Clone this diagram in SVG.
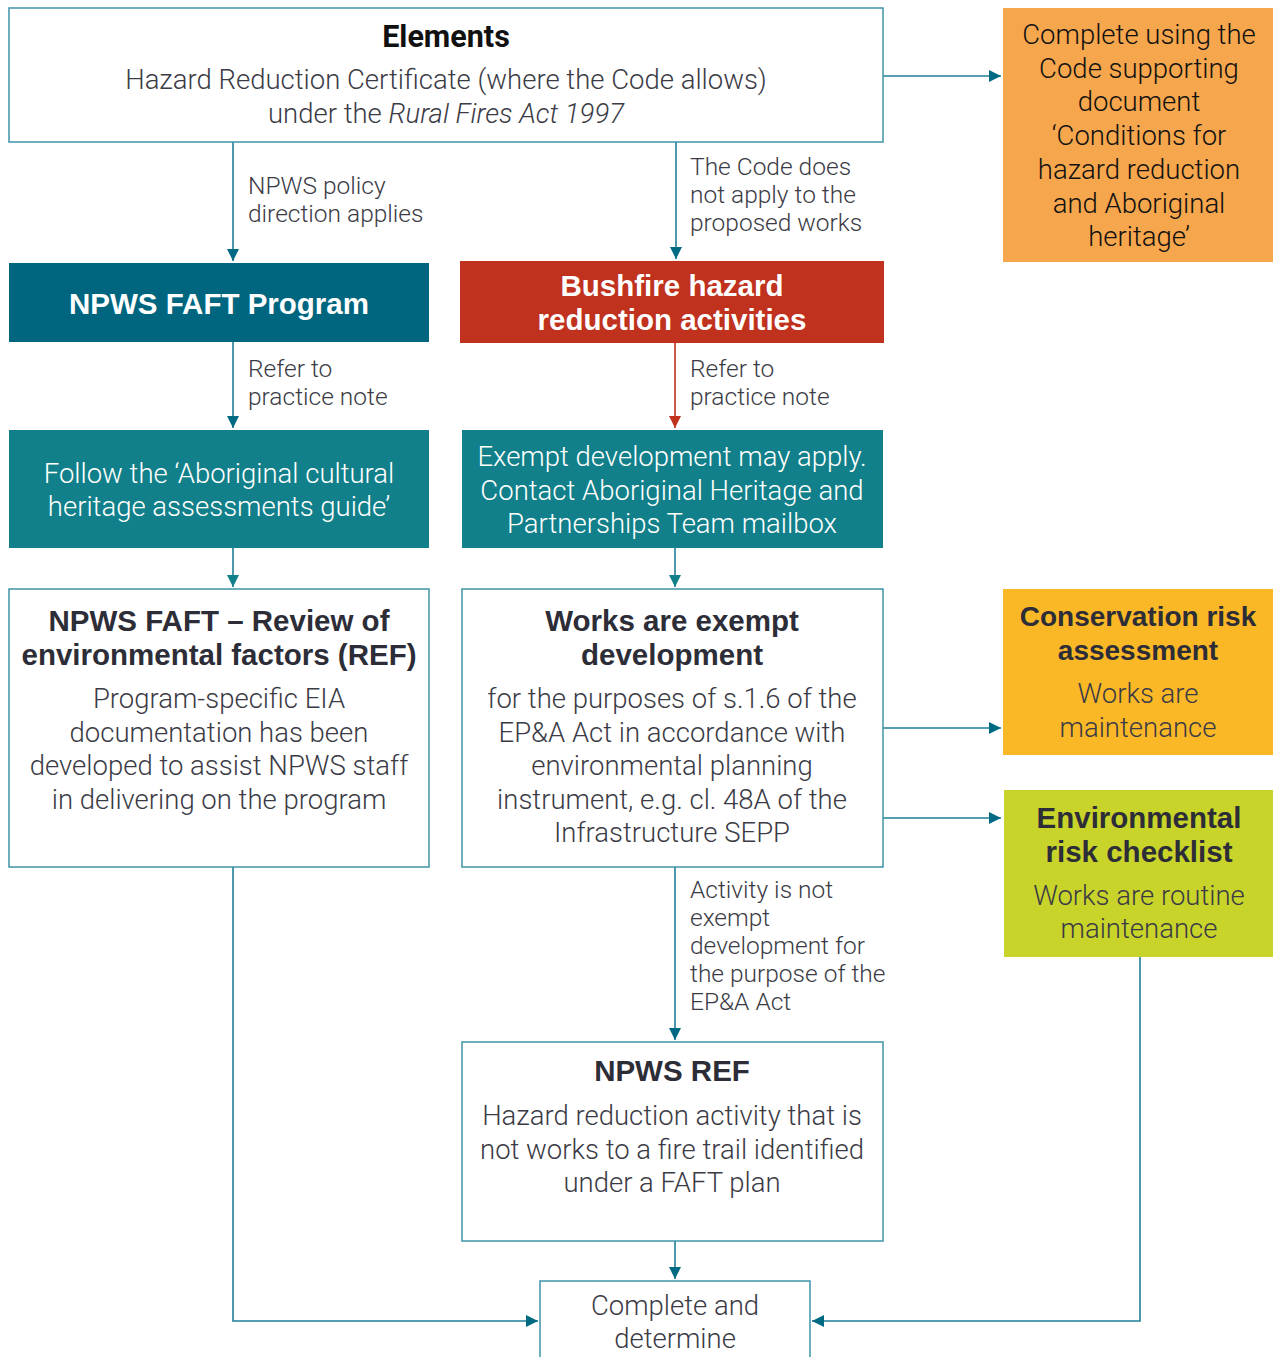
<svg xmlns="http://www.w3.org/2000/svg" width="1277" height="1357" viewBox="0 0 1277 1357">
<style>
.box{fill:#ffffff;stroke:#3f93a8;stroke-width:1.5}
.t{font-family:Roboto,"Liberation Sans",sans-serif;text-anchor:middle}
.body{font-size:27.5px;font-weight:300;fill:#3b3b45}
.title{font-family:"Liberation Sans",Arial,sans-serif;font-size:29.5px;font-weight:700;fill:#2d2d38}
.wt{font-family:"Liberation Sans",Arial,sans-serif;font-size:29.5px;font-weight:700;fill:#ffffff}
.wb{font-size:27.5px;font-weight:300;fill:#ffffff}
.lbl{font-family:Roboto,"Liberation Sans",sans-serif;font-size:24.5px;font-weight:300;fill:#3b3b45}
.c{fill:none;stroke:#1f7f96;stroke-width:1.6}
.cr{fill:none;stroke:#c0311e;stroke-width:1.6}
</style>
<defs>
<marker id="a" viewBox="0 0 10 10" refX="10" refY="5" markerWidth="12" markerHeight="12" markerUnits="userSpaceOnUse" orient="auto"><path d="M0,0 L10,5 L0,10 z" fill="#006a82"/></marker>
<marker id="ar" viewBox="0 0 10 10" refX="10" refY="5" markerWidth="12" markerHeight="12" markerUnits="userSpaceOnUse" orient="auto"><path d="M0,0 L10,5 L0,10 z" fill="#c0311e"/></marker>
<marker id="at" viewBox="0 0 10 10" refX="10" refY="5" markerWidth="12" markerHeight="12" markerUnits="userSpaceOnUse" orient="auto"><path d="M0,0 L10,5 L0,10 z" fill="#11808a"/></marker>
</defs>
<rect width="1277" height="1357" fill="#ffffff"/>

<g id="connectors">
<path class="c" d="M883,76 H1001" marker-end="url(#a)"/>
<path class="c" d="M233,142 V261" marker-end="url(#a)"/>
<path class="c" d="M676,142 V259" marker-end="url(#a)"/>
<path class="c" d="M233,342 V428" marker-end="url(#a)"/>
<path class="cr" d="M675,343 V428" marker-end="url(#ar)"/>
<path class="c" d="M233,548 V587" stroke="#11808a" marker-end="url(#at)"/>
<path class="c" d="M675,548 V587" stroke="#11808a" marker-end="url(#at)"/>
<path class="c" d="M883,728 H1001" marker-end="url(#a)"/>
<path class="c" d="M883,818 H1001" marker-end="url(#a)"/>
<path class="c" d="M675,867 V1040" marker-end="url(#a)"/>
<path class="c" d="M675,1241 V1279" marker-end="url(#a)"/>
<path class="c" d="M233,867 V1321 H538" marker-end="url(#a)"/>
<path class="c" d="M1140,957 V1321 H812" marker-end="url(#a)"/>
<text class="lbl"><tspan x="248" y="194">NPWS policy</tspan><tspan x="248" y="222">direction applies</tspan></text>
<text class="lbl"><tspan x="690" y="175">The Code does</tspan><tspan x="690" y="203">not apply to the</tspan><tspan x="690" y="231">proposed works</tspan></text>
<text class="lbl"><tspan x="248" y="377">Refer to</tspan><tspan x="248" y="405">practice note</tspan></text>
<text class="lbl"><tspan x="690" y="377">Refer to</tspan><tspan x="690" y="405">practice note</tspan></text>
<text class="lbl"><tspan x="690" y="898">Activity is not</tspan><tspan x="690" y="926">exempt</tspan><tspan x="690" y="954">development for</tspan><tspan x="690" y="982">the purpose of the</tspan><tspan x="690" y="1010">EP&amp;A Act</tspan></text>
</g>

<g id="elements">
<rect class="box" x="9" y="8" width="874" height="134"/>
<text class="t" x="446" y="47" font-family="Liberation Sans, Arial, sans-serif" font-size="30.5" font-weight="700" fill="#111111">Elements</text>
<text class="t body" x="446" y="89">Hazard Reduction Certificate (where the Code allows)</text>
<text class="t body" x="446" y="123">under the <tspan font-style="italic">Rural Fires Act 1997</tspan></text>
</g>

<g id="complete-code">
<rect x="1003" y="8" width="270" height="254" fill="#f6a64c"/>
<text class="t" font-size="27.5" font-weight="300" fill="#111111"><tspan x="1139" y="44">Complete using the</tspan><tspan x="1139" y="78">Code supporting</tspan><tspan x="1139" y="111">document</tspan><tspan x="1139" y="145">‘Conditions for</tspan><tspan x="1139" y="179">hazard reduction</tspan><tspan x="1139" y="213">and Aboriginal</tspan><tspan x="1139" y="246">heritage’</tspan></text>
</g>

<g id="faft-program">
<rect x="9" y="263" width="420" height="79" fill="#006680"/>
<text class="t wt" x="219" y="314">NPWS FAFT Program</text>
</g>

<g id="bushfire">
<rect x="460" y="261" width="424" height="82" fill="#c0311e"/>
<text class="t wt"><tspan x="672" y="296">Bushfire hazard</tspan><tspan x="672" y="330">reduction activities</tspan></text>
</g>

<g id="follow-guide">
<rect x="9" y="430" width="420" height="118" fill="#11808a"/>
<text class="t wb"><tspan x="219" y="483">Follow the ‘Aboriginal cultural</tspan><tspan x="219" y="516">heritage assessments guide’</tspan></text>
</g>

<g id="exempt-may-apply">
<rect x="462" y="430" width="421" height="118" fill="#11808a"/>
<text class="t wb"><tspan x="672" y="466">Exempt development may apply.</tspan><tspan x="672" y="500">Contact Aboriginal Heritage and</tspan><tspan x="672" y="533">Partnerships Team mailbox</tspan></text>
</g>

<g id="faft-ref">
<rect class="box" x="9" y="589" width="420" height="278"/>
<text class="t title"><tspan x="219" y="631">NPWS FAFT – Review of</tspan><tspan x="219" y="665">environmental factors (REF)</tspan></text>
<text class="t body"><tspan x="219" y="708">Program-specific EIA</tspan><tspan x="219" y="742">documentation has been</tspan><tspan x="219" y="775">developed to assist NPWS staff</tspan><tspan x="219" y="809">in delivering on the program</tspan></text>
</g>

<g id="works-exempt">
<rect class="box" x="462" y="589" width="421" height="278"/>
<text class="t title"><tspan x="672" y="631">Works are exempt</tspan><tspan x="672" y="665">development</tspan></text>
<text class="t body"><tspan x="672" y="708">for the purposes of s.1.6 of the</tspan><tspan x="672" y="742">EP&amp;A Act in accordance with</tspan><tspan x="672" y="775">environmental planning</tspan><tspan x="672" y="809">instrument, e.g. cl. 48A of the</tspan><tspan x="672" y="842">Infrastructure SEPP</tspan></text>
</g>

<g id="conservation-risk">
<rect x="1003" y="589" width="270" height="166" fill="#fbb826"/>
<text class="t title" style="font-size:28px"><tspan x="1138" y="626">Conservation risk</tspan><tspan x="1138" y="660">assessment</tspan></text>
<text class="t body"><tspan x="1138" y="703">Works are</tspan><tspan x="1138" y="737">maintenance</tspan></text>
</g>

<g id="environmental-risk">
<rect x="1004" y="790" width="269" height="167" fill="#c9d42a"/>
<text class="t title"><tspan x="1139" y="828">Environmental</tspan><tspan x="1139" y="862">risk checklist</tspan></text>
<text class="t body"><tspan x="1139" y="905">Works are routine</tspan><tspan x="1139" y="938">maintenance</tspan></text>
</g>

<g id="npws-ref">
<rect class="box" x="462" y="1042" width="421" height="199"/>
<text class="t title" x="672" y="1081">NPWS REF</text>
<text class="t body"><tspan x="672" y="1125">Hazard reduction activity that is</tspan><tspan x="672" y="1159">not works to a fire trail identified</tspan><tspan x="672" y="1192">under a FAFT plan</tspan></text>
</g>

<g id="complete-determine">
<rect class="box" x="540" y="1281" width="270" height="90"/>
<text class="t body"><tspan x="675" y="1315">Complete and</tspan><tspan x="675" y="1348">determine</tspan></text>
</g>
</svg>
